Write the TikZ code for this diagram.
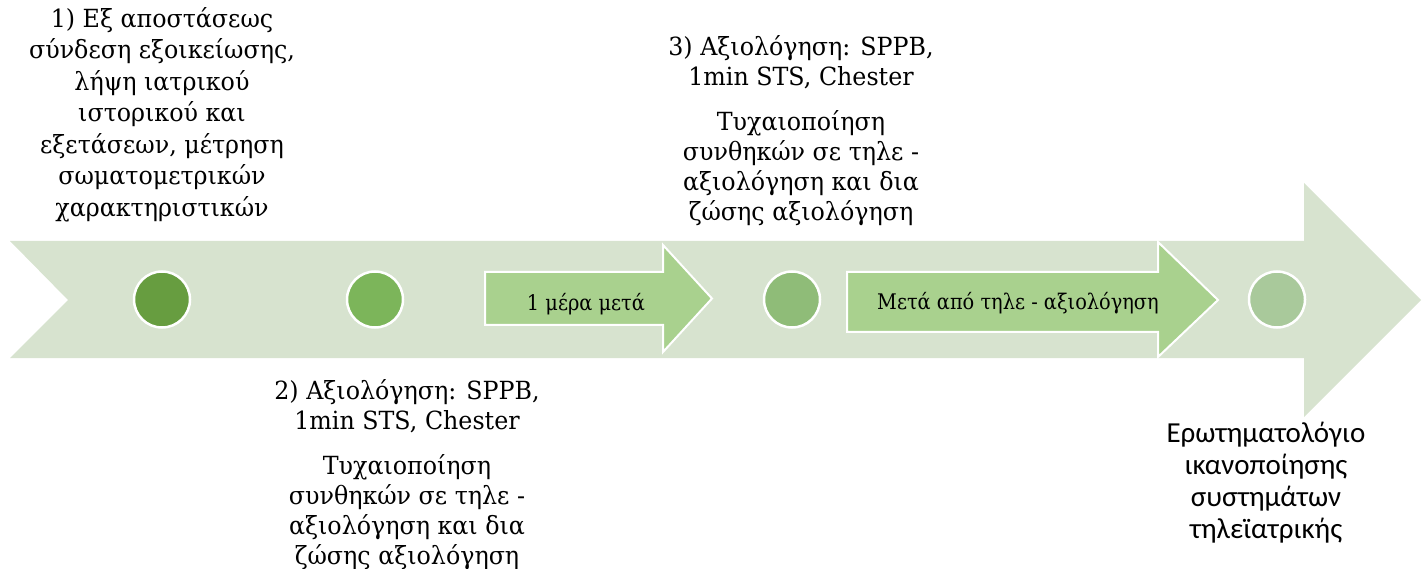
\documentclass[tikz,border=0pt]{standalone}
\usepackage{fontspec}
\setmainfont{DejaVu Serif}[FakeStretch=0.95]
\newfontfamily\innerfont{DejaVu Serif}[FakeStretch=0.9]
\newfontfamily\calfont{Carlito}
\newcommand{\topstrut}{\rule{0pt}{22pt}}

\definecolor{bandgreen}{HTML}{D7E3CF}
\definecolor{stepgreen}{HTML}{A9D18E}
\definecolor{dotA}{HTML}{679D40}
\definecolor{dotB}{HTML}{7CB55A}
\definecolor{dotC}{HTML}{8FBC78}
\definecolor{dotD}{HTML}{A9C99B}

\tikzset{
  dot/.style={circle, draw=white, line width=2.5pt, minimum size=56pt, inner sep=0pt},
  steparrow/.style={fill=stepgreen, draw=white, line width=2pt},
  caption/.style={anchor=north, align=center, inner sep=0pt,
    font=\fontsize{25}{30}\selectfont},
  sidecaption/.style={anchor=north, align=center, inner sep=0pt,
    font=\calfont\fontsize{29}{32}\selectfont},
  arrowtext/.style={anchor=base, inner sep=0pt, font=\innerfont\fontsize{21.5}{26}\selectfont}
}

\begin{document}
\begin{tikzpicture}[x=1pt, y=-1pt]
\useasboundingbox (0,0) rectangle (1427,569);

% timeline band with notched tail and large head
\fill[bandgreen] (10,241) -- (1304,241) -- (1304,183) -- (1421,300)
  -- (1304,417) -- (1304,358) -- (10,358) -- (68,300) -- cycle;

% intermediate step arrows
\path[steparrow] (485,272) -- (663,272) -- (663,245) -- (712,298.5)
  -- (663,352) -- (663,325) -- (485,325) -- cycle;
\path[steparrow] (847,272) -- (1158,272) -- (1158,242) -- (1218,300)
  -- (1158,357) -- (1158,332) -- (847,332) -- cycle;
\node[arrowtext] (s1) at (586,311) {1 μέρα μετά};
\node[arrowtext] (s2) at (1018,309) {Μετά από τηλε - αξιολόγηση};

% milestones
\node[dot, fill=dotA] (m1) at (162,299.5) {};
\node[dot, fill=dotB] (m2) at (375,299.5) {};
\node[dot, fill=dotC] (m3) at (792,299.5) {};
\node[dot, fill=dotD] (m4) at (1277,299.5) {};

% milestone descriptions
\node[caption, font=\fontsize{25}{31.5}\selectfont] (t1) at (162,5) {\topstrut 1) Εξ αποστάσεως\\ σύνδεση εξοικείωσης,\\
  λήψη ιατρικού\\ ιστορικού και\\ εξετάσεων, μέτρηση\\ σωματομετρικών\\ χαρακτηριστικών};
\node[caption] (t2) at (407,377.5) {\topstrut 2) Αξιολόγηση: SPPB,\\ 1min STS, Chester\\[14.5pt]
  Τυχαιοποίηση\\ συνθηκών σε τηλε -\\ αξιολόγηση και δια\\ ζώσης αξιολόγηση};
\node[caption] (t3) at (801,33) {\topstrut 3) Αξιολόγηση: SPPB,\\ 1min STS, Chester\\[15pt]
  Τυχαιοποίηση\\ συνθηκών σε τηλε -\\ αξιολόγηση και δια\\ ζώσης αξιολόγηση};
\node[sidecaption] (t4) at (1266,418.5) {\rule{0pt}{24pt}Ερωτηματολόγιο\\ ικανοποίησης\\
  συστημάτων\\ τηλεϊατρικής};
\end{tikzpicture}
\end{document}
